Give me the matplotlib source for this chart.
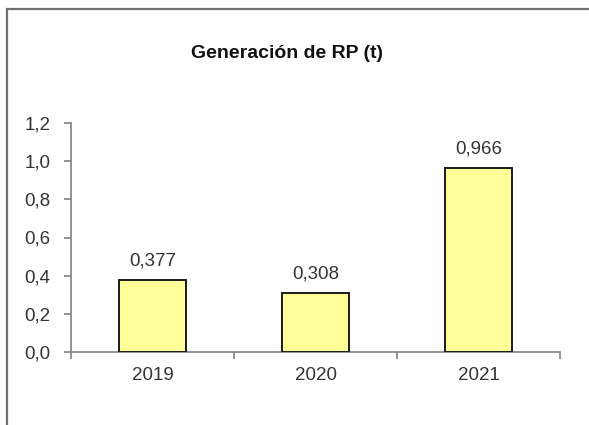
import matplotlib
matplotlib.use("Agg")
import matplotlib.pyplot as plt
from matplotlib.patches import Rectangle
from matplotlib.ticker import FixedLocator

plt.rcParams['font.family'] = ['Liberation Sans', 'DejaVu Sans']

# data
years = ['2019', '2020', '2021']
valores = [0.377, 0.308, 0.966]
yticks = [0.0, 0.2, 0.4, 0.6, 0.8, 1.0, 1.2]

fig = plt.figure(figsize=(5.89, 4.25), dpi=100)

# outer frame of the chart area (runs past right/bottom edge)
fig.patches.append(Rectangle((7/589, -0.05), 1.0, 1 - 9/425 + 0.05, transform=fig.transFigure,
                             fill=False, edgecolor='#707070', linewidth=1.6))

ax = fig.add_axes([71/589, 1 - 352/425, (560 - 71)/589, (352 - 123)/425])

x = list(range(len(years)))
ax.bar(x, valores, width=0.405, color='#FFFF99', edgecolor='#1a1a1a', linewidth=1.4, zorder=3)

for xi, v in zip(x, valores):
    ax.annotate(('%.3f' % v).replace('.', ','), (xi, v), xytext=(0, 7.5), textcoords='offset points',
                ha='center', va='bottom', fontsize=13.5, color='#333333')

ax.set_xlim(-0.5, 2.5)
ax.set_ylim(0, 1.2)
ax.set_yticks(yticks)
ax.set_yticklabels([('%.1f' % t).replace('.', ',') for t in yticks])
ax.set_xticks(x)
ax.set_xticklabels(years)
ax.xaxis.set_minor_locator(FixedLocator([-0.5, 0.5, 1.5, 2.5]))

ax.tick_params(axis='x', which='major', length=0, pad=11, labelsize=13.5, labelcolor='#333333')
ax.tick_params(axis='x', which='minor', length=5, width=1.2, color='#808080', direction='out')
ax.tick_params(axis='y', length=5, width=1.2, color='#808080', direction='out', pad=10,
               labelsize=13.5, labelcolor='#333333')

for s in ['top', 'right']:
    ax.spines[s].set_visible(False)
for s in ['left', 'bottom']:
    ax.spines[s].set_color('#808080')
    ax.spines[s].set_linewidth(1.2)

fig.text(287/589, 1 - 53/425, 'Generación de RP (t)', ha='center', va='center',
         fontsize=14, fontweight='bold', color='#111111')

fig.savefig('out.png', dpi=100)
